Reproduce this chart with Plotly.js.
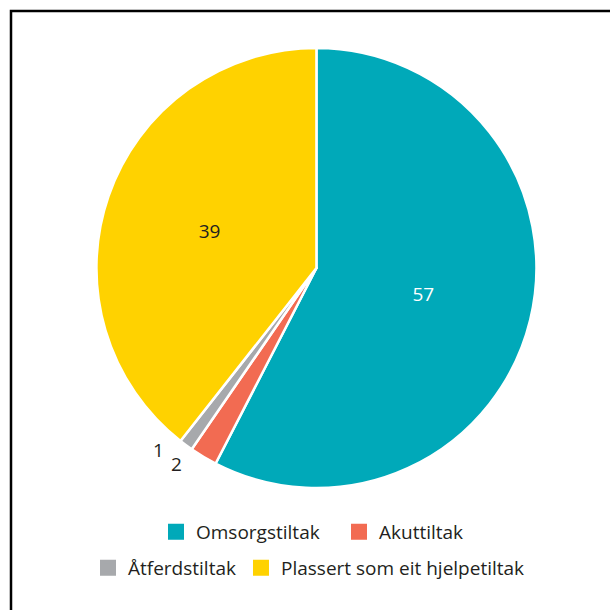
<!DOCTYPE html>
<html>
<head>
<meta charset="utf-8">
<script src="https://cdn.plot.ly/plotly-3.0.1.min.js"></script>
<style>
  html, body { margin: 0; padding: 0; background: #fff; }
  #chart { width: 610px; height: 610px; }
</style>
</head>
<body>
<div id="chart"></div>
<script>
// andel tiltak (prosent)
var labels = ["Omsorgstiltak", "Akuttiltak", "Åtferdstiltak", "Plassert som eit hjelpetiltak"];
var values = [57, 2, 1, 39];
var colors = ["#00A9B9", "#F26B52", "#A7A9AC", "#FFD200"];
var textColors = ["#ffffff", "#231F20", "#231F20", "#231F20"];
var textPos = ["inside", "none", "none", "inside"];   // small slices labelled outside below

var FONT = "Open Sans, sans-serif";
var DARK = "#231F20";
var W = 610, H = 610;
var pieDomain = { x: [0.158, 0.8795], y: [0.2, 0.9213] };

// legend rows: first two labels on row 1, last two on row 2
function legendTrace(from, to, legendId) {
    return {
        type: "pie",
        labels: labels.slice(from, to),
        values: values.slice(from, to),
        sort: false,
        textinfo: "none",
        hoverinfo: "none",
        marker: {
            colors: colors.slice(from, to),
            line: { color: colors.slice(from, to), width: 4 }
        },
        // tiny, hidden under the main pie
        domain: { x: [0.70, 0.701], y: [0.40, 0.401] },
        legend: legendId
    };
}

var mainPie = {
    type: "pie",
    labels: labels,
    values: values,
    sort: false,
    direction: "clockwise",
    rotation: 0,
    textinfo: "value",
    textposition: textPos,
    textfont: { family: FONT, size: 19, color: textColors },
    marker: { colors: colors, line: { color: "#ffffff", width: 2.5 } },
    domain: pieDomain,
    hoverinfo: "none",
    showlegend: false
};

// outside labels for the small slices, placed from the pie geometry
var cx = (pieDomain.x[0] + pieDomain.x[1]) / 2 * W;
var cy = (1 - (pieDomain.y[0] + pieDomain.y[1]) / 2) * H;
var rad = Math.min((pieDomain.x[1] - pieDomain.x[0]) * W, (pieDomain.y[1] - pieDomain.y[0]) * H) / 2;
var total = values.reduce(function (a, b) { return a + b; }, 0);
var annotations = [];
var cum = 0;
values.forEach(function (v, i) {
    if (textPos[i] === "none") {
        var ang = ((cum + v / 2) / total * 360 + 4.5) * Math.PI / 180;
        var px = cx + rad * 1.095 * Math.sin(ang);
        var py = cy - rad * 1.095 * Math.cos(ang);
        annotations.push({
            xref: "paper", yref: "paper",
            x: px / W, y: 1 - py / H,
            xanchor: "center", yanchor: "middle",
            text: String(v), showarrow: false,
            font: { family: FONT, size: 19, color: DARK }
        });
    }
    cum += v;
});

var data = [legendTrace(0, 2, "legend"), legendTrace(2, 4, "legend2"), mainPie];

var legendFont = { family: FONT, size: 19, color: DARK };

var layout = {
    width: W,
    height: H,
    margin: { l: 0, r: 0, t: 0, b: 0 },
    paper_bgcolor: "#ffffff",
    font: { family: FONT, color: DARK },
    showlegend: true,
    legend: {
        orientation: "h",
        x: 156 / W, xanchor: "left",
        y: 1 - 532 / H, yanchor: "middle",
        entrywidth: 138, entrywidthmode: "pixels",
        font: legendFont
    },
    legend2: {
        orientation: "h",
        x: 88 / W, xanchor: "left",
        y: 1 - 568 / H, yanchor: "middle",
        font: legendFont
    },
    annotations: annotations,
    shapes: [{
        type: "rect",
        xref: "paper", yref: "paper",
        x0: 11 / W, x1: 1.2,
        y0: -0.2, y1: 1 - 11 / H,
        line: { color: "#000000", width: 2.5 }
    }]
};

Plotly.newPlot("chart", data, layout, { displayModeBar: false, staticPlot: true });
</script>
</body>
</html>
